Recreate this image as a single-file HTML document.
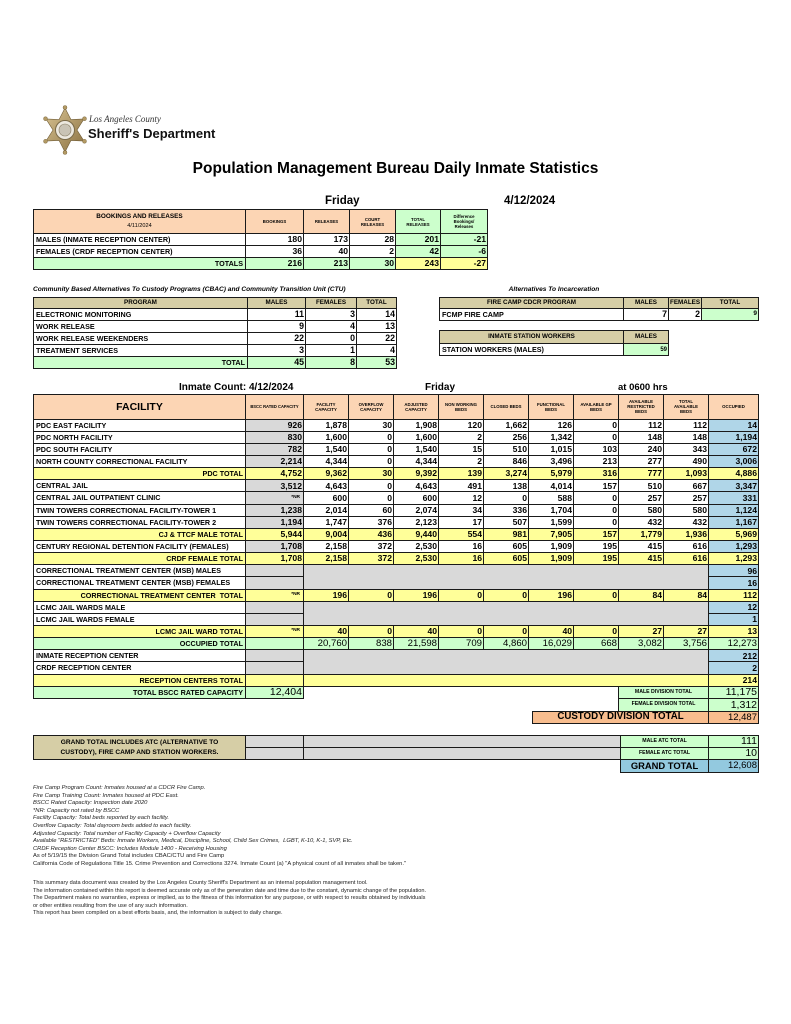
<!DOCTYPE html>
<html><head><meta charset="utf-8">
<style>
*{margin:0;padding:0;box-sizing:border-box}
html,body{width:791px;height:1024px;background:#fff;overflow:hidden}
body{position:relative;font-family:"Liberation Sans",Arial,sans-serif;color:#000}
.abs{position:absolute;white-space:nowrap}
table{border-collapse:collapse;table-layout:fixed;position:absolute}
td{border:1px solid #1a1a1a;padding:0 1px;overflow:hidden;white-space:nowrap;vertical-align:middle;line-height:1;font-size:8.6px;font-weight:bold;text-align:right}
.l{font-size:7.2px;text-align:left;padding-left:2px}
.r{text-align:right;padding-right:2px}
.h{font-size:4.3px;text-align:center;line-height:5px}
.k{font-size:6.3px;text-align:center;background:#d6cea6}
.or{background:#fcd5b4}
.gr{background:#ccffcc}
.ye{background:#ffff99}
.bl{background:#b0d6e8}
.gy{background:#d9d9d9}
.kh{background:#d6cea6}
.nb{border:none;background:#fff}
.nr{font-size:4.8px;padding-right:3px}
tr.ye td{background:#ffff99}
tr.gr td{background:#ccffcc}
tr.big td:not(.l){font-size:9.6px;font-weight:normal}
#f tr{height:12.15px}
#f tr.hd{height:24.6px}
.bigv{font-size:10.5px;font-weight:normal}
.sl{font-size:5.2px;text-align:center}
.fn{position:absolute;left:33px;font-size:5.8px;color:#222;white-space:nowrap}
</style></head><body>

<!-- Logo -->
<svg class="abs" style="left:40px;top:104px" width="52" height="54" viewBox="0 0 52 54">
<defs><linearGradient id="g" x1="0" y1="0" x2="1" y2="1"><stop offset="0" stop-color="#d8c393"/><stop offset="1" stop-color="#8a7040"/></linearGradient></defs>
<polygon points="25,4 31,15.6 44,15 37,26 44,37 31,36.4 25,48 19,36.4 6,37 13,26 6,15 19,15.6" fill="url(#g)" stroke="#6e5a33" stroke-width="0.6"/>
<g fill="#b39a64" stroke="#6e5a33" stroke-width="0.4">
<circle cx="25" cy="3.5" r="2"/><circle cx="44.5" cy="14.7" r="2"/><circle cx="44.5" cy="37.3" r="2"/><circle cx="25" cy="48.5" r="2"/><circle cx="5.5" cy="37.3" r="2"/><circle cx="5.5" cy="14.7" r="2"/>
</g>
<circle cx="25" cy="26" r="9.5" fill="#ece8df" stroke="#7a6a48" stroke-width="1"/>
<circle cx="25" cy="26" r="6" fill="#c9c3b5" stroke="#8b8068" stroke-width="0.6"/>
</svg>
<div class="abs" style="left:89px;top:114px;font-family:'Liberation Serif',serif;font-style:italic;font-size:9px;color:#333">Los Angeles County</div>
<div class="abs" style="left:88px;top:126px;font-weight:bold;font-size:13px;color:#111;line-height:15px">Sheriff's Department</div>

<!-- Title -->
<div class="abs" style="left:0;width:791px;top:160px;text-align:center;font-weight:bold;font-size:15.5px;line-height:18px">Population Management Bureau Daily Inmate Statistics</div>

<div class="abs" style="left:325px;top:195px;font-weight:bold;font-size:11.5px;line-height:13px">Friday</div>
<div class="abs" style="left:504px;top:195px;font-weight:bold;font-size:11.5px;line-height:13px">4/12/2024</div>

<!-- Bookings -->
<table style="left:33px;top:209px;width:454px">
<colgroup><col style="width:212px"><col style="width:58px"><col style="width:46px"><col style="width:46px"><col style="width:45px"><col style="width:47px"></colgroup>
<tr style="height:24px"><td class="or" style="text-align:center;font-size:6.4px;line-height:9px">BOOKINGS AND RELEASES<br><span style="font-weight:normal;font-size:5.6px">4/11/2024</span></td><td class="or h">BOOKINGS</td><td class="or h">RELEASES</td><td class="or h">COURT<br>RELEASES</td><td class="gr h">TOTAL<br>RELEASES</td><td class="gr h">Difference<br>Bookings/<br>Releases</td></tr>
<tr style="height:12px"><td class="l">MALES (INMATE RECEPTION CENTER)</td><td>180</td><td>173</td><td>28</td><td class="gr">201</td><td class="gr">-21</td></tr>
<tr style="height:12px"><td class="l">FEMALES (CRDF RECEPTION CENTER)</td><td>36</td><td>40</td><td>2</td><td class="gr">42</td><td class="gr">-6</td></tr>
<tr style="height:12px"><td class="l r gr">TOTALS</td><td class="gr">216</td><td class="gr">213</td><td class="gr">30</td><td class="ye">243</td><td class="ye">-27</td></tr>
</table>

<!-- CBAC -->
<div class="abs" style="left:33px;top:286px;font-weight:bold;font-style:italic;font-size:6.6px">Community Based Alternatives To Custody Programs (CBAC) and Community Transition Unit (CTU)</div>
<div class="abs" style="left:454px;width:200px;top:286px;text-align:center;font-weight:bold;font-style:italic;font-size:6.6px">Alternatives To Incarceration</div>

<table style="left:33px;top:297px;width:363px">
<colgroup><col style="width:214px"><col style="width:58px"><col style="width:51px"><col style="width:40px"></colgroup>
<tr style="height:11px"><td class="k">PROGRAM</td><td class="k">MALES</td><td class="k">FEMALES</td><td class="k">TOTAL</td></tr>
<tr style="height:12px"><td class="l">ELECTRONIC MONITORING</td><td style="font-size:8.8px">11</td><td style="font-size:8.8px">3</td><td style="font-size:8.8px">14</td></tr>
<tr style="height:12px"><td class="l">WORK RELEASE</td><td style="font-size:8.8px">9</td><td style="font-size:8.8px">4</td><td style="font-size:8.8px">13</td></tr>
<tr style="height:12px"><td class="l">WORK RELEASE WEEKENDERS</td><td style="font-size:8.8px">22</td><td style="font-size:8.8px">0</td><td style="font-size:8.8px">22</td></tr>
<tr style="height:12px"><td class="l">TREATMENT SERVICES</td><td style="font-size:8.8px">3</td><td style="font-size:8.8px">1</td><td style="font-size:8.8px">4</td></tr>
<tr class="gr" style="height:12px"><td class="l r">TOTAL</td><td style="font-size:8.8px">45</td><td style="font-size:8.8px">8</td><td style="font-size:8.8px">53</td></tr>
</table>

<table style="left:439px;top:297px;width:319px">
<colgroup><col style="width:184px"><col style="width:45px"><col style="width:33px"><col style="width:57px"></colgroup>
<tr style="height:11px"><td class="k">FIRE CAMP CDCR PROGRAM</td><td class="k">MALES</td><td class="k">FEMALES</td><td class="k">TOTAL</td></tr>
<tr style="height:12px"><td class="l">FCMP FIRE CAMP</td><td style="font-size:8.8px">7</td><td style="font-size:8.8px">2</td><td class="gr" style="font-size:6.5px">9</td></tr>
</table>

<table style="left:439px;top:330px;width:229px">
<colgroup><col style="width:184px"><col style="width:45px"></colgroup>
<tr style="height:13px"><td class="k">INMATE STATION WORKERS</td><td class="k">MALES</td></tr>
<tr style="height:12px"><td class="l">STATION WORKERS (MALES)</td><td class="gr" style="font-size:6px">59</td></tr>
</table>

<!-- Facility -->
<div class="abs" style="left:179px;top:382px;font-weight:bold;font-size:10px;line-height:11px">Inmate Count: 4/12/2024</div>
<div class="abs" style="left:425px;top:382px;font-weight:bold;font-size:10px;line-height:11px">Friday</div>
<div class="abs" style="left:618px;top:382px;font-weight:bold;font-size:9.5px;line-height:11px">at 0600 hrs</div>

<table id="f" style="left:33px;top:394px;width:725px">
<colgroup><col style="width:212px"><col style="width:58px"><col span="9" style="width:45px"><col style="width:50px"></colgroup>
<tr class="hd"><td class="or" style="font-size:10.5px;text-align:center">FACILITY</td><td class="or h" style="font-size:4.1px">BSCC RATED CAPACITY</td><td class="or h">FACILITY<br>CAPACITY</td><td class="or h">OVERFLOW<br>CAPACITY</td><td class="or h">ADJUSTED<br>CAPACITY</td><td class="or h">NON WORKING<br>BEDS</td><td class="or h">CLOSED BEDS</td><td class="or h">FUNCTIONAL<br>BEDS</td><td class="or h">AVAILABLE GP<br>BEDS</td><td class="or h">AVAILABLE<br>RESTRICTED<br>BEDS</td><td class="or h">TOTAL<br>AVAILABLE<br>BEDS</td><td class="or h">OCCUPIED</td></tr>
<tr><td class="l">PDC EAST FACILITY</td><td class="gy">926</td><td>1,878</td><td>30</td><td>1,908</td><td>120</td><td>1,662</td><td>126</td><td>0</td><td>112</td><td>112</td><td class="bl">14</td></tr>
<tr><td class="l">PDC NORTH FACILITY</td><td class="gy">830</td><td>1,600</td><td>0</td><td>1,600</td><td>2</td><td>256</td><td>1,342</td><td>0</td><td>148</td><td>148</td><td class="bl">1,194</td></tr>
<tr><td class="l">PDC SOUTH FACILITY</td><td class="gy">782</td><td>1,540</td><td>0</td><td>1,540</td><td>15</td><td>510</td><td>1,015</td><td>103</td><td>240</td><td>343</td><td class="bl">672</td></tr>
<tr><td class="l">NORTH COUNTY CORRECTIONAL FACILITY</td><td class="gy">2,214</td><td>4,344</td><td>0</td><td>4,344</td><td>2</td><td>846</td><td>3,496</td><td>213</td><td>277</td><td>490</td><td class="bl">3,006</td></tr>
<tr class="ye"><td class="l r">PDC TOTAL</td><td>4,752</td><td>9,362</td><td>30</td><td>9,392</td><td>139</td><td>3,274</td><td>5,979</td><td>316</td><td>777</td><td>1,093</td><td>4,886</td></tr>
<tr><td class="l">CENTRAL JAIL</td><td class="gy">3,512</td><td>4,643</td><td>0</td><td>4,643</td><td>491</td><td>138</td><td>4,014</td><td>157</td><td>510</td><td>667</td><td class="bl">3,347</td></tr>
<tr><td class="l">CENTRAL JAIL OUTPATIENT CLINIC</td><td class="gy nr">*NR</td><td>600</td><td>0</td><td>600</td><td>12</td><td>0</td><td>588</td><td>0</td><td>257</td><td>257</td><td class="bl">331</td></tr>
<tr><td class="l">TWIN TOWERS CORRECTIONAL FACILITY-TOWER 1</td><td class="gy">1,238</td><td>2,014</td><td>60</td><td>2,074</td><td>34</td><td>336</td><td>1,704</td><td>0</td><td>580</td><td>580</td><td class="bl">1,124</td></tr>
<tr><td class="l">TWIN TOWERS CORRECTIONAL FACILITY-TOWER 2</td><td class="gy">1,194</td><td>1,747</td><td>376</td><td>2,123</td><td>17</td><td>507</td><td>1,599</td><td>0</td><td>432</td><td>432</td><td class="bl">1,167</td></tr>
<tr class="ye"><td class="l r">CJ &amp; TTCF MALE TOTAL</td><td>5,944</td><td>9,004</td><td>436</td><td>9,440</td><td>554</td><td>981</td><td>7,905</td><td>157</td><td>1,779</td><td>1,936</td><td>5,969</td></tr>
<tr><td class="l">CENTURY REGIONAL DETENTION FACILITY (FEMALES)</td><td class="gy">1,708</td><td>2,158</td><td>372</td><td>2,530</td><td>16</td><td>605</td><td>1,909</td><td>195</td><td>415</td><td>616</td><td class="bl">1,293</td></tr>
<tr class="ye"><td class="l r">CRDF FEMALE TOTAL</td><td>1,708</td><td>2,158</td><td>372</td><td>2,530</td><td>16</td><td>605</td><td>1,909</td><td>195</td><td>415</td><td>616</td><td>1,293</td></tr>
<tr><td class="l">CORRECTIONAL TREATMENT CENTER (MSB) MALES</td><td class="gy"></td><td class="gy" colspan="9" rowspan="2"></td><td class="bl">96</td></tr>
<tr><td class="l">CORRECTIONAL TREATMENT CENTER (MSB) FEMALES</td><td class="gy"></td><td class="bl">16</td></tr>
<tr class="ye"><td class="l r">CORRECTIONAL TREATMENT CENTER&nbsp; TOTAL</td><td class="nr">*NR</td><td>196</td><td>0</td><td>196</td><td>0</td><td>0</td><td>196</td><td>0</td><td>84</td><td>84</td><td>112</td></tr>
<tr><td class="l">LCMC JAIL WARDS MALE</td><td class="gy"></td><td class="gy" colspan="9" rowspan="2"></td><td class="bl">12</td></tr>
<tr><td class="l">LCMC JAIL WARDS FEMALE</td><td class="gy"></td><td class="bl">1</td></tr>
<tr class="ye"><td class="l r">LCMC JAIL WARD TOTAL</td><td class="nr">*NR</td><td>40</td><td>0</td><td>40</td><td>0</td><td>0</td><td>40</td><td>0</td><td>27</td><td>27</td><td>13</td></tr>
<tr class="gr big"><td class="l r">OCCUPIED TOTAL</td><td></td><td>20,760</td><td>838</td><td>21,598</td><td>709</td><td>4,860</td><td>16,029</td><td>668</td><td>3,082</td><td>3,756</td><td>12,273</td></tr>
<tr><td class="l">INMATE RECEPTION CENTER</td><td class="gy"></td><td class="gy" colspan="9" rowspan="2"></td><td class="bl">212</td></tr>
<tr><td class="l">CRDF RECEPTION CENTER</td><td class="gy"></td><td class="bl">2</td></tr>
<tr class="ye"><td class="l r">RECEPTION CENTERS TOTAL</td><td></td><td colspan="9"></td><td>214</td></tr>
<tr><td class="l r gr">TOTAL BSCC RATED CAPACITY</td><td class="gr bigv">12,404</td><td class="nb" colspan="7"></td><td class="gr sl" colspan="2">MALE DIVISION TOTAL</td><td class="gr bigv">11,175</td></tr>
</table>

<table style="left:532px;top:698px;width:226px">
<colgroup><col style="width:86px"><col style="width:90px"><col style="width:50px"></colgroup>
<tr style="height:12.5px"><td class="nb"></td><td class="gr sl">FEMALE DIVISION TOTAL</td><td class="gr bigv">1,312</td></tr>
<tr style="height:12.5px"><td colspan="2" style="background:#f8bd8e;font-size:9.7px;text-align:center">CUSTODY DIVISION TOTAL</td><td style="background:#f8bd8e;font-size:9.5px;font-weight:normal">12,487</td></tr>
</table>

<!-- Grand total -->
<table style="left:33px;top:735px;width:725px">
<colgroup><col style="width:212px"><col style="width:58px"><col style="width:317px"><col style="width:88px"><col style="width:50px"></colgroup>
<tr style="height:12px"><td class="kh" rowspan="2" style="font-size:6.6px;text-align:center;line-height:10px">GRAND TOTAL INCLUDES ATC (ALTERNATIVE TO<br>CUSTODY), FIRE CAMP AND STATION WORKERS.</td><td class="gy"></td><td class="gy"></td><td class="gr sl">MALE ATC TOTAL</td><td class="gr bigv">111</td></tr>
<tr style="height:12px"><td class="gy"></td><td class="gy"></td><td class="gr sl">FEMALE ATC TOTAL</td><td class="gr bigv">10</td></tr>
<tr style="height:13px"><td class="nb" colspan="3"></td><td style="background:#93c9df;font-size:9.4px;text-align:center">GRAND TOTAL</td><td style="background:#93c9df;font-size:9.5px;font-weight:normal">12,608</td></tr>
</table>

<!-- Footnotes -->
<div class="fn" style="top:785px;line-height:7.6px">
<i>Fire Camp Program Count: Inmates housed at a CDCR Fire Camp.</i><br>
<i>Fire Camp Training Count: Inmates housed at PDC East.</i><br>
<i>BSCC Rated Capacity: Inspection date 2020</i><br>
<i>*NR: Capacity not rated by BSCC</i><br>
<i>Facility Capacity: Total beds reported by each facility.</i><br>
<i>Overflow Capacity: Total dayroom beds added to each facility.</i><br>
<i>Adjusted Capacity: Total number of Facility Capacity + Overflow Capacity</i><br>
<i>Available "RESTRICTED" Beds: Inmate Workers, Medical, Discipline, School, Child Sex Crimes,&nbsp; LGBT, K-10, K-1, SVP, Etc.</i><br>
<i>CRDF Reception Center BSCC: Includes Module 1400 - Receiving Housing</i><br>
As of 5/19/15 the Division Grand Total includes CBAC/CTU and Fire Camp<br>
California Code of Regulations Title 15. Crime Prevention and Corrections 3274. Inmate Count (a) "A physical count of all inmates shall be taken."
</div>
<div class="fn" style="top:880px;line-height:7.5px;font-size:5.6px">
This summary data document was created by the Los Angeles County Sheriff's Department as an internal population management tool.<br>
The information contained within this report is deemed accurate only as of the generation date and time due to the constant, dynamic change of the population.<br>
The Department makes no warranties, express or implied, as to the fitness of this information for any purpose, or with respect to results obtained by individuals<br>
or other entities resulting from the use of any such information.<br>
This report has been compiled on a best efforts basis, and, the information is subject to daily change.
</div>
</body></html>
